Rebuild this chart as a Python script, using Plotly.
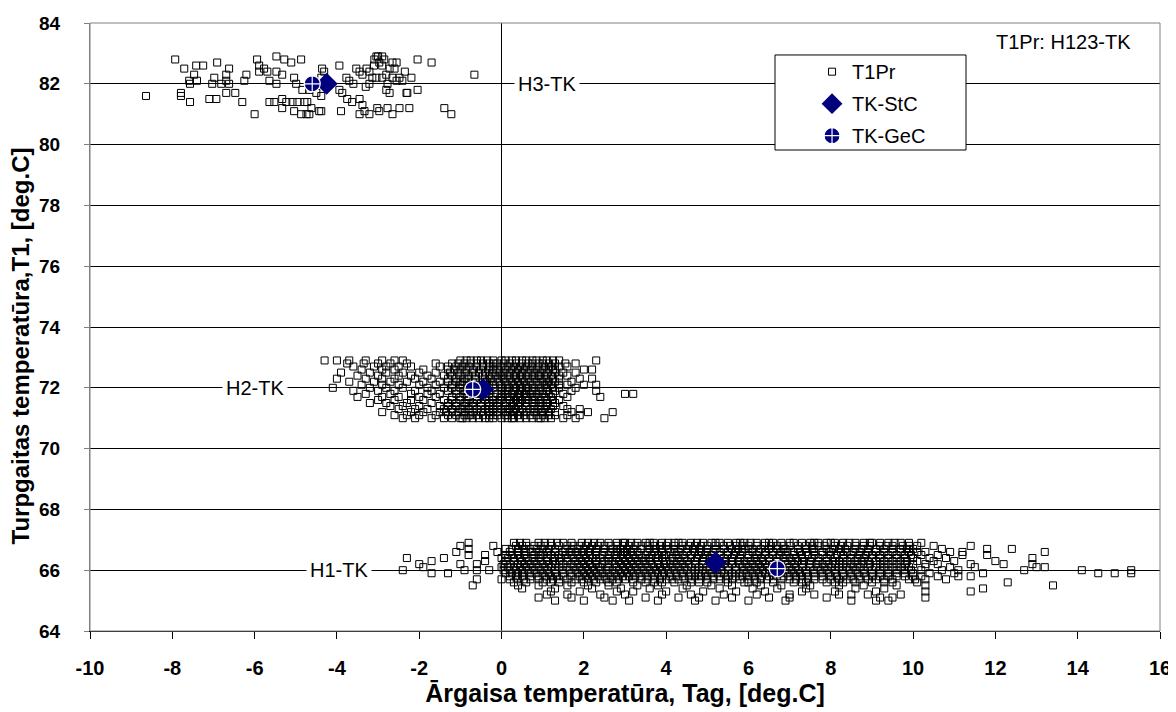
import plotly.graph_objects as go

# ---------------- data ----------------
# H3 cluster: (Tag, T1) points
h3_points = [
    (-7.93, 82.8), (-8.64, 81.6), (-7.71, 82.5), (-7.42, 82.6), (-7.25, 82.6), (-6.91, 82.7),
    (-6.62, 82.5), (-7.59, 82.1), (-7.40, 82.1), (-7.47, 82.3), (-7.57, 82.0), (-7.79, 81.7),
    (-7.79, 81.6), (-7.57, 81.4), (-7.10, 81.5), (-6.93, 81.5), (-7.03, 82.0), (-6.81, 82.0),
    (-6.69, 82.1), (-6.62, 82.0), (-6.98, 82.2), (-6.69, 82.3), (-6.69, 81.7), (-6.47, 81.7),
    (-6.30, 81.4), (-6.25, 82.1), (-6.20, 82.3), (-6.00, 81.0), (-5.94, 82.8), (-5.89, 82.6),
    (-5.77, 82.5), (-5.89, 82.4), (-5.69, 82.4), (-5.47, 82.4), (-5.64, 82.1), (-5.47, 82.0),
    (-5.33, 82.3), (-5.47, 82.9), (-5.28, 82.8), (-5.11, 82.7), (-4.87, 82.8), (-5.64, 81.4),
    (-5.52, 81.4), (-5.33, 81.5), (-5.23, 81.4), (-5.08, 81.4), (-4.96, 81.4), (-4.79, 81.4),
    (-4.72, 81.4), (-5.33, 81.2), (-5.04, 81.1), (-4.87, 81.0), (-4.74, 81.0), (-4.62, 81.2),
    (-4.43, 81.1), (-4.67, 81.0), (-4.38, 81.1), (-5.04, 82.2), (-4.99, 82.0), (-4.84, 81.8),
    (-4.67, 81.8), (-4.50, 81.7), (-4.38, 81.6), (-4.36, 82.5), (-4.31, 82.4), (-4.38, 82.2),
    (-3.94, 82.6), (-3.94, 81.8), (-3.87, 81.7), (-3.75, 81.5), (-3.63, 81.4), (-3.45, 81.5),
    (-3.38, 81.3), (-3.33, 81.1), (-3.21, 81.0), (-3.45, 81.0), (-3.02, 81.2), (-2.97, 81.1),
    (-2.77, 81.2), (-2.65, 81.0), (-2.48, 81.2), (-2.24, 81.2), (-2.04, 81.8), (-2.29, 81.7),
    (-3.77, 82.2), (-3.70, 82.1), (-3.53, 82.5), (-3.45, 82.4), (-3.38, 82.3), (-3.28, 82.5),
    (-3.21, 82.4), (-3.14, 82.2), (-3.04, 82.2), (-2.90, 82.2), (-2.80, 82.3), (-2.65, 82.2),
    (-2.55, 82.1), (-2.48, 82.2), (-2.41, 82.1), (-2.19, 82.2), (-2.72, 82.5), (-2.65, 82.7),
    (-2.55, 82.7), (-3.04, 82.9), (-2.90, 82.9), (-3.09, 82.8), (-2.80, 81.8), (-2.77, 82.0),
    (-2.72, 81.7), (-2.31, 81.7), (-2.90, 82.6), (-2.97, 82.7), (-3.21, 82.0), (-2.04, 82.8),
    (-1.70, 82.7), (-1.39, 81.2), (-1.22, 81.0), (-0.66, 82.3), (-3.00, 82.9), (-2.85, 82.8),
    (-3.10, 82.6), (-2.60, 82.5), (-2.35, 82.4), (-3.60, 82.0), (-3.30, 81.9), (-3.90, 81.1),
]

# H2 cluster: one list of Tag values per T1 level
h2_levels = [72.9, 72.8, 72.7, 72.6, 72.5, 72.4, 72.3, 72.2, 72.1, 72.0,
             71.9, 71.8, 71.7, 71.6, 71.5, 71.4, 71.3, 71.2, 71.1, 71.0]
h2_x = [
    [-4.3, -4.0, -3.7, -3.3, -2.9, -2.6, -2.4, -1.0, -0.75, -0.5, -0.2, 0.1, 0.35, 0.6, 0.85, 1.1, 1.4, 2.3],
    [-3.75, -3.35, -3.0, -2.7, -2.3, -1.6, -1.2, -0.9, -0.6, -0.3, -0.1, 0.2, 0.5, 0.75, 1.0, 1.3, 1.55, 1.8],
    [-3.6, -3.1, -2.8, -2.5, -2.2, -1.5, -1.1, -0.8, -0.45, 0.0, 0.3, 0.6, 0.9, 1.2, 1.6],
    [-3.4, -2.9, -2.6, -1.9, -1.3, -1.0, -0.7, -0.3, 0.1, 0.4, 0.7, 1.0, 1.3, 2.0, 2.2],
    [-3.9, -3.2, -2.8, -2.4, -2.0, -1.6, -1.25, -0.9, -0.55, -0.2, 0.2, 0.5, 0.8, 1.1, 1.5, 1.8],
    [-3.5, -3.0, -2.5, -2.2, -1.8, -1.4, -1.0, -0.65, -0.3, 0.0, 0.3, 0.6, 0.9, 1.2, 1.6],
    [-4.0, -3.3, -2.9, -2.6, -2.1, -1.7, -1.3, -0.9, -0.4, -0.1, 0.2, 0.5, 0.8, 1.1, 1.4, 1.9, 2.2],
    [-3.7, -3.1, -2.7, -2.3, -1.9, -1.5, -1.1, -0.7, -0.2, 0.1, 0.4, 0.7, 1.0, 1.3, 1.7],
    [-3.4, -2.9, -2.5, -2.0, -1.6, -1.2, -0.8, -0.4, 0.0, 0.3, 0.6, 0.9, 1.2, 1.6, 2.0, 2.3],
    [-4.1, -3.2, -2.8, -2.4, -1.8, -1.4, -1.0, -0.6, -0.2, 0.2, 0.5, 0.8, 1.1, 1.4, 1.8],
    [-3.6, -3.0, -2.6, -2.1, -1.7, -1.3, -0.9, -0.5, 0.0, 0.3, 0.6, 0.9, 1.3, 1.7, 2.3],
    [-3.3, -2.7, -2.2, -1.8, -1.5, -1.1, -0.7, -0.3, 0.1, 0.4, 0.7, 1.0, 1.5, 3.0, 3.2],
    [-3.5, -2.9, -2.5, -2.0, -1.6, -1.2, -0.8, -0.4, 0.0, 0.3, 0.6, 0.9, 1.2, 1.6, 2.4],
    [-3.0, -2.6, -2.2, -1.9, -1.4, -1.0, -0.6, -0.2, 0.2, 0.5, 0.8, 1.1, 1.4],
    [-3.2, -2.8, -2.3, -1.7, -1.3, -0.9, -0.5, -0.1, 0.3, 0.6, 0.9, 1.3],
    [-2.7, -2.4, -2.0, -1.5, -1.1, -0.7, -0.3, 0.1, 0.4, 0.8, 1.1, 1.5],
    [-2.5, -2.1, -1.8, -1.4, -1.0, -0.6, -0.2, 0.2, 0.5, 0.9, 1.2, 1.6, 1.9],
    [-2.9, -2.2, -1.9, -1.5, -1.2, -0.9, -0.5, -0.1, 0.3, 0.6, 1.0, 1.3, 1.7, 2.1, 2.7],
    [-2.6, -2.3, -2.0, -1.6, -1.3, -0.9, -0.6, -0.3, 0.1, 0.4, 0.7, 1.0, 1.3, 1.6, 1.9],
    [-2.4, -2.1, -1.7, -1.4, -1.0, -0.7, -0.4, 0.0, 0.3, 0.6, 0.9, 1.2, 1.5, 1.8, 2.5],
]
# additional H2 readings in the dense core (same levels)
h2_x_core = [
    [-0.85, -0.35, 0.25, 0.75, 1.25, -0.6, 0.0, 0.5, 1.0],
    [-1.05, -0.45, 0.05, 0.65, 1.15, -0.75, -0.2, 0.35, 0.9],
    [-1.3, -0.6, -0.2, 0.45, 1.05, 1.4, -0.95, -0.3, 0.15, 0.75],
    [-1.15, -0.5, -0.1, 0.25, 0.85, 1.15, -0.85, -0.2, 0.55, 1.25],
    [-1.05, -0.4, 0.05, 0.65, 0.95, -0.7, -0.05, 0.35, 1.3],
    [-1.2, -0.8, -0.15, 0.15, 0.75, 1.05, 1.4, -0.45, 0.45, 0.9],
    [-1.1, -0.65, -0.25, 0.35, 0.95, -0.8, 0.05, 0.65, 1.25],
    [-1.3, -0.9, -0.45, 0.25, 0.55, 1.15, -1.0, -0.35, -0.05, 0.85],
    [-1.0, -0.6, -0.2, 0.15, 0.45, 1.05, 1.4, -0.95, -0.3, 0.75, 1.1],
    [-1.2, -0.8, 0.0, 0.35, 0.65, 0.95, -0.4, 0.1, 0.6, 1.25],
    [-1.1, -0.7, 0.15, 0.45, 0.75, 1.1, -0.85, -0.3, 0.5, 1.0],
    [-0.9, -0.5, -0.1, 0.25, 0.55, 0.85, 1.25, -0.65, 0.0, 0.6, 1.15],
    [-1.0, -0.6, -0.2, 0.15, 0.45, 0.75, 1.05, -0.85, -0.3, 0.2, 0.8],
    [-1.2, -0.8, -0.4, 0.0, 0.35, 0.65, 0.95, -0.6, -0.05, 0.4, 1.25],
    [-1.1, -0.7, -0.3, 0.1, 0.45, 0.75, 1.1, -0.85, -0.2, 0.2, 1.0],
    [-1.3, -0.9, -0.5, -0.1, 0.25, 0.6, 0.95, -0.8, -0.2, 0.3, 1.25],
    [-1.2, -0.8, -0.4, 0.0, 0.35, 0.7, 1.05, -0.95, -0.3, 0.15, 0.8],
    [-1.35, -0.7, -0.3, 0.1, 0.45, 0.8, 1.15, -1.05, -0.2, 0.2, 0.95],
    [-1.1, -0.75, -0.45, -0.1, 0.25, 0.55, 0.85, -0.8, -0.2, 0.15, 1.15],
    [-1.2, -0.85, -0.55, -0.2, 0.15, 0.45, 0.75, 1.05, -0.95, -0.3, 0.25, 0.95],
]

# H1 cluster: one list of Tag values per T1 level
h1_levels = [66.9, 66.8, 66.7, 66.6, 66.5, 66.4, 66.3, 66.2, 66.1, 66.0,
             65.9, 65.8, 65.7, 65.6, 65.5, 65.4, 65.3, 65.2, 65.1, 65.0]
h1_x = [
    [-0.8, 0.3, 0.9, 1.5, 1.7, 2.1, 2.4, 2.6, 3.0, 3.3, 3.5, 3.9, 4.2, 4.6, 4.9, 5.3, 5.5, 5.9, 6.2, 6.6, 6.8, 7.3, 7.5, 7.9, 8.3, 8.6, 9.0, 9.4, 9.7, 10.2],
    [-1.0, -0.2, 0.5, 0.8, 1.2, 1.6, 1.9, 2.2, 2.5, 2.8, 3.1, 3.4, 3.7, 4.0, 4.4, 4.7, 5.0, 5.4, 5.7, 6.0, 6.4, 6.7, 7.0, 7.4, 7.7, 8.1, 8.4, 8.8, 9.2, 9.5, 10.1, 10.5, 11.4],
    [-0.8, 0.1, 0.4, 0.7, 1.0, 1.3, 1.7, 2.0, 2.3, 2.7, 2.9, 3.2, 3.6, 3.9, 4.2, 4.5, 4.8, 5.2, 5.6, 5.9, 6.3, 6.5, 6.9, 7.2, 7.6, 7.9, 8.2, 8.6, 8.9, 9.3, 9.7, 10.0, 10.7, 11.8, 12.4],
    [-1.1, -0.1, 0.2, 0.6, 0.9, 1.1, 1.5, 1.8, 2.1, 2.5, 2.8, 3.0, 3.3, 3.7, 4.1, 4.3, 4.7, 5.0, 5.3, 5.7, 6.1, 6.4, 6.8, 7.1, 7.4, 7.8, 8.0, 8.4, 8.7, 9.1, 9.5, 9.9, 10.3, 10.9, 11.2, 13.2],
    [-0.8, -0.4, 0.1, 0.4, 0.8, 1.0, 1.4, 1.7, 2.0, 2.3, 2.6, 2.9, 3.2, 3.5, 3.8, 4.0, 4.4, 4.8, 5.1, 5.5, 5.8, 6.2, 6.6, 6.9, 7.3, 7.6, 8.0, 8.3, 8.7, 9.0, 9.4, 9.8, 10.2, 10.6, 11.2, 11.8],
    [-2.3, -1.4, 0.0, 0.3, 0.6, 0.9, 1.3, 1.6, 1.9, 2.2, 2.4, 2.8, 3.1, 3.4, 3.6, 3.9, 4.3, 4.6, 4.9, 5.2, 5.6, 6.0, 6.3, 6.7, 7.0, 7.3, 7.7, 8.1, 8.5, 8.8, 9.2, 9.6, 10.0, 10.4, 10.8, 12.9],
    [-1.7, -0.4, 0.1, 0.5, 0.8, 1.1, 1.4, 1.8, 2.1, 2.5, 2.7, 3.0, 3.3, 3.6, 4.0, 4.2, 4.5, 4.9, 5.3, 5.6, 5.9, 6.2, 6.5, 6.9, 7.2, 7.5, 7.9, 8.2, 8.6, 8.9, 9.3, 9.7, 10.1, 10.5, 11.0, 12.0],
    [-2.0, -1.0, -0.6, 0.2, 0.4, 0.7, 1.0, 1.3, 1.7, 2.0, 2.3, 2.6, 2.9, 3.2, 3.5, 3.8, 4.1, 4.4, 4.7, 5.1, 5.4, 5.8, 6.1, 6.4, 6.8, 7.1, 7.5, 7.8, 8.1, 8.5, 8.8, 9.2, 9.6, 10.0, 10.6, 11.4, 12.2, 12.9],
    [-1.9, 0.0, 0.3, 0.6, 0.9, 1.2, 1.6, 1.9, 2.2, 2.4, 2.8, 3.1, 3.4, 3.7, 4.0, 4.3, 4.6, 5.0, 5.3, 5.7, 6.0, 6.3, 6.6, 7.0, 7.3, 7.7, 8.0, 8.4, 8.7, 9.1, 9.5, 9.9, 10.3, 10.9, 11.5, 13.0, 13.2],
    [-2.4, -0.9, -0.6, -0.3, 0.2, 0.5, 0.8, 1.1, 1.5, 1.8, 2.1, 2.4, 2.7, 3.0, 3.3, 3.6, 3.9, 4.2, 4.5, 4.9, 5.2, 5.5, 5.9, 6.2, 6.5, 6.9, 7.2, 7.6, 7.9, 8.3, 8.6, 9.0, 9.4, 9.8, 10.2, 10.7, 11.1, 12.7, 14.1, 15.3],
    [-1.7, -1.3, 0.1, 0.4, 0.7, 1.0, 1.3, 1.7, 2.0, 2.3, 2.6, 2.9, 3.2, 3.5, 3.8, 4.1, 4.4, 4.8, 5.1, 5.4, 5.8, 6.1, 6.4, 6.8, 7.1, 7.4, 7.8, 8.1, 8.5, 8.8, 9.2, 9.6, 10.0, 10.4, 11.0, 11.7, 14.5, 14.9, 15.3],
    [0.2, 0.5, 0.9, 1.2, 1.5, 1.9, 2.2, 2.5, 2.8, 3.1, 3.4, 3.7, 4.1, 4.4, 4.7, 5.0, 5.3, 5.7, 6.0, 6.3, 6.7, 7.0, 7.3, 7.6, 8.0, 8.3, 8.7, 9.0, 9.4, 9.8, 10.2, 10.6, 11.1, 11.4],
    [-0.6, 0.0, 0.4, 0.7, 1.1, 1.4, 1.8, 2.1, 2.4, 2.7, 3.0, 3.4, 3.7, 4.0, 4.3, 4.6, 5.0, 5.3, 5.6, 6.0, 6.3, 6.6, 7.0, 7.3, 7.6, 8.0, 8.4, 8.7, 9.1, 9.5, 9.9, 10.3, 10.8],
    [0.3, 0.6, 1.0, 1.4, 1.7, 2.0, 2.3, 2.8, 3.2, 3.5, 3.9, 4.2, 4.6, 5.0, 5.5, 5.9, 6.2, 6.6, 7.1, 7.4, 7.9, 8.3, 8.6, 9.0, 9.5, 10.1, 12.3],
    [-0.7, 0.4, 0.9, 1.6, 2.1, 2.6, 3.3, 3.8, 4.5, 5.1, 5.6, 6.3, 6.8, 7.5, 8.2, 8.8, 9.6, 10.3, 13.4],
    [0.5, 1.3, 2.2, 2.9, 3.6, 4.4, 5.3, 6.1, 6.7, 7.4, 8.6, 9.3, 11.7],
    [1.2, 1.9, 2.8, 3.2, 4.0, 4.9, 5.7, 6.4, 7.3, 8.1, 9.1, 10.3, 11.4],
    [1.1, 1.6, 2.4, 3.0, 3.9, 4.6, 5.4, 6.2, 7.0, 7.6, 8.2, 8.5, 8.9, 9.7],
    [0.9, 1.7, 2.5, 3.5, 4.3, 4.8, 5.6, 6.5, 7.0, 7.9, 9.2, 9.5, 10.3],
    [1.3, 2.0, 2.7, 3.1, 3.8, 4.7, 5.2, 6.0, 6.9, 8.5, 9.1, 9.4],
]
# additional H1 readings in the dense core (levels 66.9 .. 65.6)
h1_x_core = [
    [0.6, 1.2, 1.95, 2.8, 3.7, 4.05, 4.4, 5.1, 5.7, 6.4, 7.1, 7.7, 8.1, 8.8, 9.2],
    [0.35, 1.05, 1.75, 2.35, 2.95, 3.55, 4.2, 4.85, 5.55, 6.2, 6.85, 7.55, 8.25, 8.95, 9.75],
    [0.55, 1.15, 1.85, 2.5, 3.05, 3.75, 4.35, 5.0, 5.75, 6.1, 6.7, 7.4, 8.05, 8.75, 9.5],
    [0.4, 1.3, 1.95, 2.65, 3.15, 3.9, 4.5, 5.15, 5.85, 6.6, 7.25, 7.95, 8.55, 9.3, 10.1],
    [0.25, 0.95, 1.55, 2.15, 2.75, 3.35, 3.95, 4.6, 5.3, 6.0, 6.75, 7.45, 8.15, 8.85, 9.6],
    [0.15, 0.75, 1.45, 2.05, 2.6, 3.25, 3.75, 4.45, 5.05, 5.8, 6.5, 7.15, 7.9, 8.65, 9.4],
    [0.3, 0.95, 1.6, 2.3, 2.85, 3.45, 4.1, 4.7, 5.45, 6.05, 6.7, 7.35, 8.05, 8.75, 9.5],
    [0.55, 1.15, 1.85, 2.45, 3.05, 3.65, 4.25, 4.9, 5.6, 6.25, 6.95, 7.65, 8.3, 8.95, 9.8],
    [0.15, 0.75, 1.4, 2.05, 2.6, 3.25, 3.85, 4.45, 5.15, 5.85, 6.45, 7.15, 7.85, 8.55, 9.3],
    [0.35, 0.95, 1.65, 2.25, 2.85, 3.45, 4.05, 4.7, 5.35, 6.05, 6.7, 7.4, 8.1, 8.8, 9.6],
    [0.25, 0.85, 1.5, 2.15, 2.75, 3.35, 3.95, 4.6, 5.25, 5.95, 6.6, 7.25, 7.95, 8.65, 9.4],
    [0.35, 1.05, 1.7, 2.35, 2.95, 3.55, 4.25, 4.85, 5.5, 6.15, 6.85, 7.45, 8.15, 8.85, 9.6],
    [0.2, 0.9, 1.6, 2.25, 2.85, 3.55, 4.15, 4.8, 5.45, 6.15, 6.8, 7.45, 8.2, 8.9],
    [1.2, 2.6, 3.7, 4.8, 6.0, 7.3, 8.1, 9.3],
]
# further H1 readings in the dense core (levels 66.9 .. 65.7)
h1_x_core2 = [
    [0.45, 1.05, 1.35, 2.25, 2.95, 3.15, 3.6, 4.3, 4.75, 5.2, 5.8, 6.05, 6.5, 7.0, 7.6, 8.0, 8.45, 8.95, 9.55, 9.9],
    [0.6, 0.95, 1.4, 2.05, 2.65, 3.25, 3.85, 4.55, 5.2, 5.85, 6.55, 7.2, 7.85, 8.6, 9.35, 9.9],
    [0.25, 0.85, 1.55, 2.15, 2.8, 3.4, 4.05, 4.65, 5.4, 6.0, 6.85, 7.55, 8.35, 9.1, 9.85],
    [0.75, 1.65, 2.3, 2.95, 3.55, 4.2, 4.85, 5.5, 6.25, 6.95, 7.6, 8.25, 8.9, 9.7],
    [0.55, 1.2, 1.85, 2.45, 3.05, 3.65, 4.25, 4.95, 5.65, 6.4, 7.1, 7.8, 8.5, 9.2, 9.95],
    [0.45, 1.1, 1.75, 2.3, 2.95, 3.5, 4.15, 4.75, 5.4, 6.15, 6.85, 7.55, 8.3, 9.0, 9.8],
    [0.65, 1.25, 1.95, 2.6, 3.15, 3.8, 4.35, 5.1, 5.75, 6.35, 7.05, 7.7, 8.4, 9.1, 9.85],
    [0.05, 0.85, 1.5, 2.15, 2.75, 3.35, 3.95, 4.55, 5.25, 5.95, 6.6, 7.3, 7.95, 8.65, 9.4, 10.3],
    [0.45, 1.05, 1.75, 2.35, 2.95, 3.55, 4.15, 4.8, 5.5, 6.15, 6.8, 7.5, 8.2, 8.9, 9.7],
    [0.05, 0.65, 1.3, 1.95, 2.55, 3.15, 3.75, 4.35, 5.05, 5.7, 6.35, 7.05, 7.75, 8.45, 9.2, 9.95],
    [0.55, 1.15, 1.85, 2.45, 3.05, 3.65, 4.25, 4.95, 5.6, 6.25, 6.95, 7.6, 8.3, 9.0, 9.8],
    [0.7, 1.35, 2.05, 2.65, 3.25, 3.9, 4.55, 5.15, 5.85, 6.5, 7.15, 7.8, 8.5, 9.2, 10.0],
    [0.55, 1.25, 1.95, 2.55, 3.2, 3.85, 4.45, 5.15, 5.8, 6.45, 7.15, 7.8, 8.55, 9.3, 10.05],
]

# centre points of each mode
stc_x = [-4.25, -0.45, 5.2]
stc_y = [82.0, 71.95, 66.25]
gec_x = [-4.6, -0.7, 6.7]
gec_y = [82.0, 71.95, 66.05]

# mode labels
mode_labels = ["H3-TK", "H2-TK", "H1-TK"]
mode_label_x = [1.1, -6.0, -3.95]
mode_label_y = [82.0, 72.0, 66.0]

x_ticks = list(range(-10, 17, 2))
y_ticks = list(range(64, 85, 2))

# ---------------- build ----------------
pts_x, pts_y = [], []
for x, y in h3_points:
    pts_x.append(x)
    pts_y.append(y)
for levels, groups in ((h2_levels, h2_x), (h2_levels, h2_x_core),
                       (h1_levels, h1_x), (h1_levels, h1_x_core), (h1_levels, h1_x_core2)):
    for lev, xs in zip(levels, groups):
        pts_x += xs
        pts_y += [lev] * len(xs)

FONT = "Liberation Sans, Arial, sans-serif"
NAVY = "#00007f"

fig = go.Figure()
fig.add_trace(go.Scatter(
    x=pts_x, y=pts_y, mode="markers", name="T1Pr", legendgroup="a",
    marker=dict(symbol="square-open", size=7, color="black", line=dict(width=1, color="black")),
))
fig.add_trace(go.Scatter(
    x=stc_x, y=stc_y, mode="markers", name="TK-StC", legendgroup="b",
    marker=dict(symbol="diamond", size=17, color=NAVY, line=dict(width=0)),
))
fig.add_trace(go.Scatter(
    x=gec_x, y=gec_y, mode="markers", name="TK-GeC", legendgroup="c",
    marker=dict(symbol="circle-cross", size=16, color=NAVY, line=dict(width=1.2, color="white")),
))

annotations = []
for t, x, y in zip(mode_labels, mode_label_x, mode_label_y):
    annotations.append(dict(x=x, y=y, xref="x", yref="y", text=t, showarrow=False,
                            bgcolor="white", borderpad=3,
                            font=dict(family=FONT, size=20, color="black")))
annotations.append(dict(x=0.910, y=0.969, xref="paper", yref="paper", text="T1Pr: H123-TK",
                        showarrow=False, xanchor="center", yanchor="middle",
                        font=dict(family=FONT, size=20, color="black")))
# y-axis title (rotated)
annotations.append(dict(x=-0.0654, y=0.468, xref="paper", yref="paper",
                        text="<b>Turpgaitas temperatūra,T1, [deg.C]</b>", textangle=-90,
                        showarrow=False, xanchor="center", yanchor="middle",
                        font=dict(family=FONT, size=24, color="black")))

shapes = [
    # plot frame (grey)
    dict(type="rect", xref="paper", yref="paper", x0=0, x1=1, y0=0, y1=1,
         line=dict(color="#808080", width=1), layer="above"),
    # legend box
    dict(type="rect", xref="paper", yref="paper", x0=0.6402, x1=0.8187, y0=0.7911, y1=0.9474,
         line=dict(color="black", width=1), fillcolor="white", layer="above"),
]

fig.update_layout(
    width=1176, height=712,
    margin=dict(l=82, r=24, t=15, b=89),
    paper_bgcolor="white", plot_bgcolor="white",
    font=dict(family=FONT, color="black"),
    showlegend=True,
    legend=dict(x=0.6748, y=0.952, xanchor="left", yanchor="top",
                bgcolor="rgba(0,0,0,0)", borderwidth=0, tracegroupgap=3,
                font=dict(family=FONT, size=20, color="black"), itemsizing="trace"),
    annotations=annotations,
    shapes=shapes,
)
fig.update_xaxes(
    range=[-10, 16], tickvals=x_ticks, ticktext=["<b>%d</b>" % v for v in x_ticks],
    showgrid=False, zeroline=True, zerolinecolor="black", zerolinewidth=1,
    showline=True, linecolor="black", linewidth=1,
    ticks="outside", ticklen=7, tickcolor="black", ticklabelstandoff=12,
    tickfont=dict(family=FONT, size=20, color="black", weight="bold"),
    automargin=False,
    title=dict(text="<b>Ārgaisa temperatūra, Tag, [deg.C]</b>", standoff=6,
               font=dict(family=FONT, size=25, color="black")),
)
fig.update_yaxes(
    range=[64, 84], tickvals=y_ticks, ticktext=["<b>%d</b>" % v for v in y_ticks],
    showgrid=True, gridcolor="black", gridwidth=1, zeroline=False,
    showline=True, linecolor="#808080", linewidth=1,
    ticks="outside", ticklen=5, tickcolor="#808080", ticklabelstandoff=20,
    tickfont=dict(family=FONT, size=19, color="black", weight="bold"),
    automargin=False,
)

fig.write_html("out.html")
